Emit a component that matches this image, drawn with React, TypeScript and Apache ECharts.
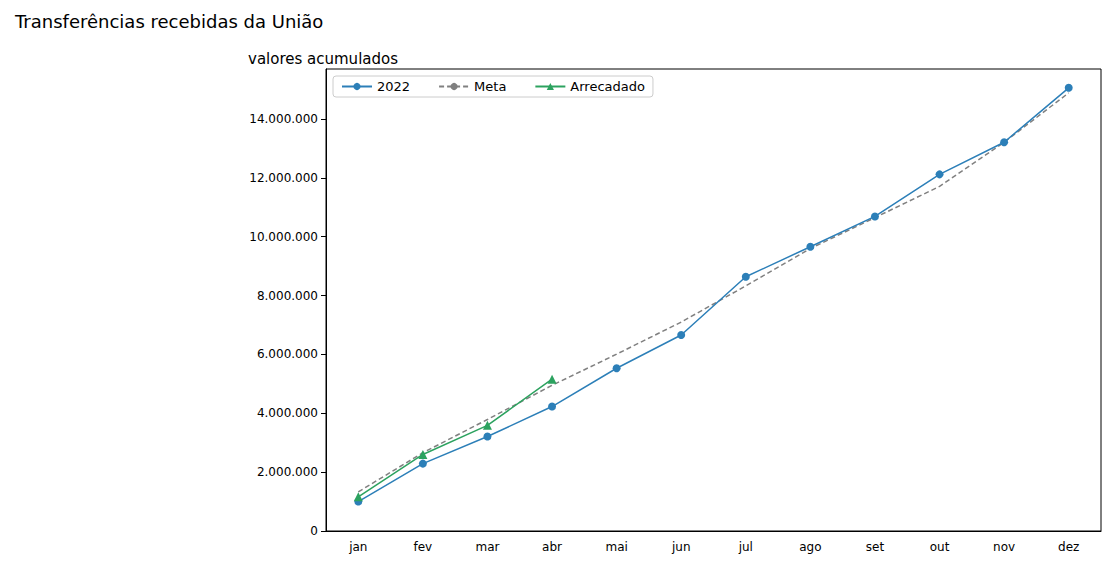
import React, { useEffect, useRef } from 'react';
import * as echarts from 'echarts';
import type { EChartsOption } from 'echarts';

const months = ['jan', 'fev', 'mar', 'abr', 'mai', 'jun', 'jul', 'ago', 'set', 'out', 'nov', 'dez'];
const values2022 = [1000000, 2290000, 3210000, 4230000, 5530000, 6660000, 8640000, 9660000, 10690000, 12120000, 13210000, 15060000];
const meta = [1330000, 2660000, 3790000, 4950000, 6010000, 7100000, 8330000, 9600000, 10650000, 11710000, 13210000, 14890000];
const arrecadado = [1160000, 2600000, 3590000, 5160000];

const fmt = (v: number) => v.toLocaleString('pt-BR').replace(/,/g, '.');
const font = 'DejaVu Sans';

const App: React.FC = () => {
  const chartRef = useRef<HTMLDivElement>(null);

  useEffect(() => {
    if (!chartRef.current) return;
    const chart = echarts.init(chartRef.current, undefined, { renderer: 'svg' });
    const option: EChartsOption = {
      animation: false,
      textStyle: { fontFamily: font },
      title: [
        { text: 'Transferências recebidas da União', left: 10, top: 7, textStyle: { fontSize: 18, fontWeight: 'normal', color: '#000', fontFamily: font } },
        { text: 'valores acumulados', left: 243, top: 46, textStyle: { fontSize: 15, fontWeight: 'normal', color: '#000', fontFamily: font } },
      ],
      legend: {
        left: 333, top: 76, orient: 'horizontal',
        backgroundColor: '#fff', borderColor: '#ccc', borderWidth: 1, borderRadius: 3,
        padding: [4, 8], itemGap: 28, itemWidth: 30, itemHeight: 9,
        textStyle: { fontSize: 13, color: '#000', fontFamily: font },
        data: ['2022', 'Meta', 'Arrecadado'],
      },
      grid: { left: 326, right: 9, top: 69, bottom: 34, show: true, borderColor: '#000', borderWidth: 1 },
      xAxis: {
        type: 'category', data: months,
        axisLine: { lineStyle: { color: '#000' } },
        axisTick: { alignWithLabel: true, lineStyle: { color: '#000' } },
        axisLabel: { color: '#000', fontSize: 12, margin: 10 },
      },
      yAxis: {
        type: 'value', min: 0, max: 15700000, interval: 2000000,
        axisLine: { show: true, lineStyle: { color: '#000' } },
        axisTick: { show: true, lineStyle: { color: '#000' } },
        splitLine: { show: false },
        axisLabel: { color: '#000', fontSize: 12, formatter: (v: number) => fmt(v), showMaxLabel: false },
      },
      series: [
        { name: '2022', type: 'line', data: values2022, color: '#2c7fb8', symbol: 'circle', symbolSize: 8, lineStyle: { width: 1.5 }, z: 3 },
        { name: 'Meta', type: 'line', data: meta, color: '#808080', symbol: 'none', lineStyle: { width: 1.5, type: [5, 3] }, z: 2 },
        { name: 'Arrecadado', type: 'line', data: arrecadado, color: '#2ca25f', symbol: 'triangle', symbolSize: 9, lineStyle: { width: 1.5 }, z: 4 },
      ],
    };
    chart.setOption(option);
    return () => chart.dispose();
  }, []);

  return <div ref={chartRef} style={{ position: 'absolute', left: 0, top: 0, width: 1110, height: 565 }} />;
};

export default App;
